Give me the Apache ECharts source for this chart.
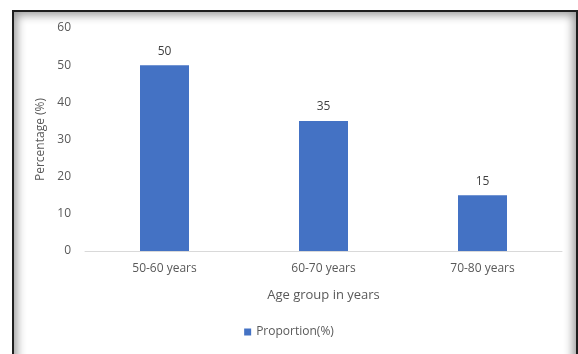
<!DOCTYPE html>
<html>
<head>
<meta charset="utf-8">
<script src="https://cdn.jsdelivr.net/npm/echarts@6/dist/echarts.min.js"></script>
<style>
  html, body { margin: 0; padding: 0; background: #fff; }
  #wrap { position: relative; width: 578px; height: 354px; overflow: hidden; }
  #chart { position: absolute; left: 0; top: 0; width: 578px; height: 354px; }
  #frame {
    position: absolute; left: 12px; top: 10px; width: 562px; height: 360px;
    border: 2px solid #1e1e1e;
    box-shadow: inset 0 0 10px 3px rgba(0, 0, 0, 0.4);
    pointer-events: none;
  }
</style>
</head>
<body>
<div id="wrap">
  <div id="chart"></div>
  <div id="frame"></div>
</div>
<script>
const categories = ["50-60 years", "60-70 years", "70-80 years"]
const proportion = [50, 35, 15]
const yTicks = { min: 0, max: 60, interval: 10 }

const chart = echarts.init(document.getElementById("chart"))
const font = "'Open Sans', 'Noto Sans', sans-serif"

chart.setOption({
  backgroundColor: "transparent",
  textStyle: { fontFamily: font },
  grid: { left: 85, right: 16, top: 28, bottom: 103 },
  legend: {
    bottom: 11,
    left: "center",
    itemWidth: 7,
    itemHeight: 7,
    itemGap: 4,
    icon: "rect",
    textStyle: { color: "#595959", fontSize: 12, fontFamily: font },
    data: ["Proportion(%)"],
  },
  xAxis: {
    type: "category",
    data: categories,
    name: "Age group in years",
    nameLocation: "middle",
    nameGap: 38,
    nameTextStyle: { color: "#595959", fontSize: 13, fontFamily: font },
    axisLine: { lineStyle: { color: "#d9d9d9", width: 1 } },
    axisTick: { show: false },
    axisLabel: { color: "#595959", fontSize: 12, margin: 12, fontFamily: font },
  },
  yAxis: {
    type: "value",
    min: yTicks.min,
    max: yTicks.max,
    interval: yTicks.interval,
    name: "Percentage (%)",
    nameLocation: "middle",
    nameGap: 33,
    nameTextStyle: { color: "#595959", fontSize: 12, fontFamily: font },
    axisLine: { show: false },
    axisTick: { show: false },
    splitLine: { show: false },
    axisLabel: { color: "#595959", fontSize: 12, margin: 14, fontFamily: font },
  },
  series: [
    {
      name: "Proportion(%)",
      type: "bar",
      data: proportion,
      barWidth: 49,
      itemStyle: { color: "#4472c4" },
      label: {
        show: true,
        position: "top",
        distance: 8,
        color: "#404040",
        fontSize: 12,
        fontFamily: font,
      },
    },
  ],
})
</script>
</body>
</html>
